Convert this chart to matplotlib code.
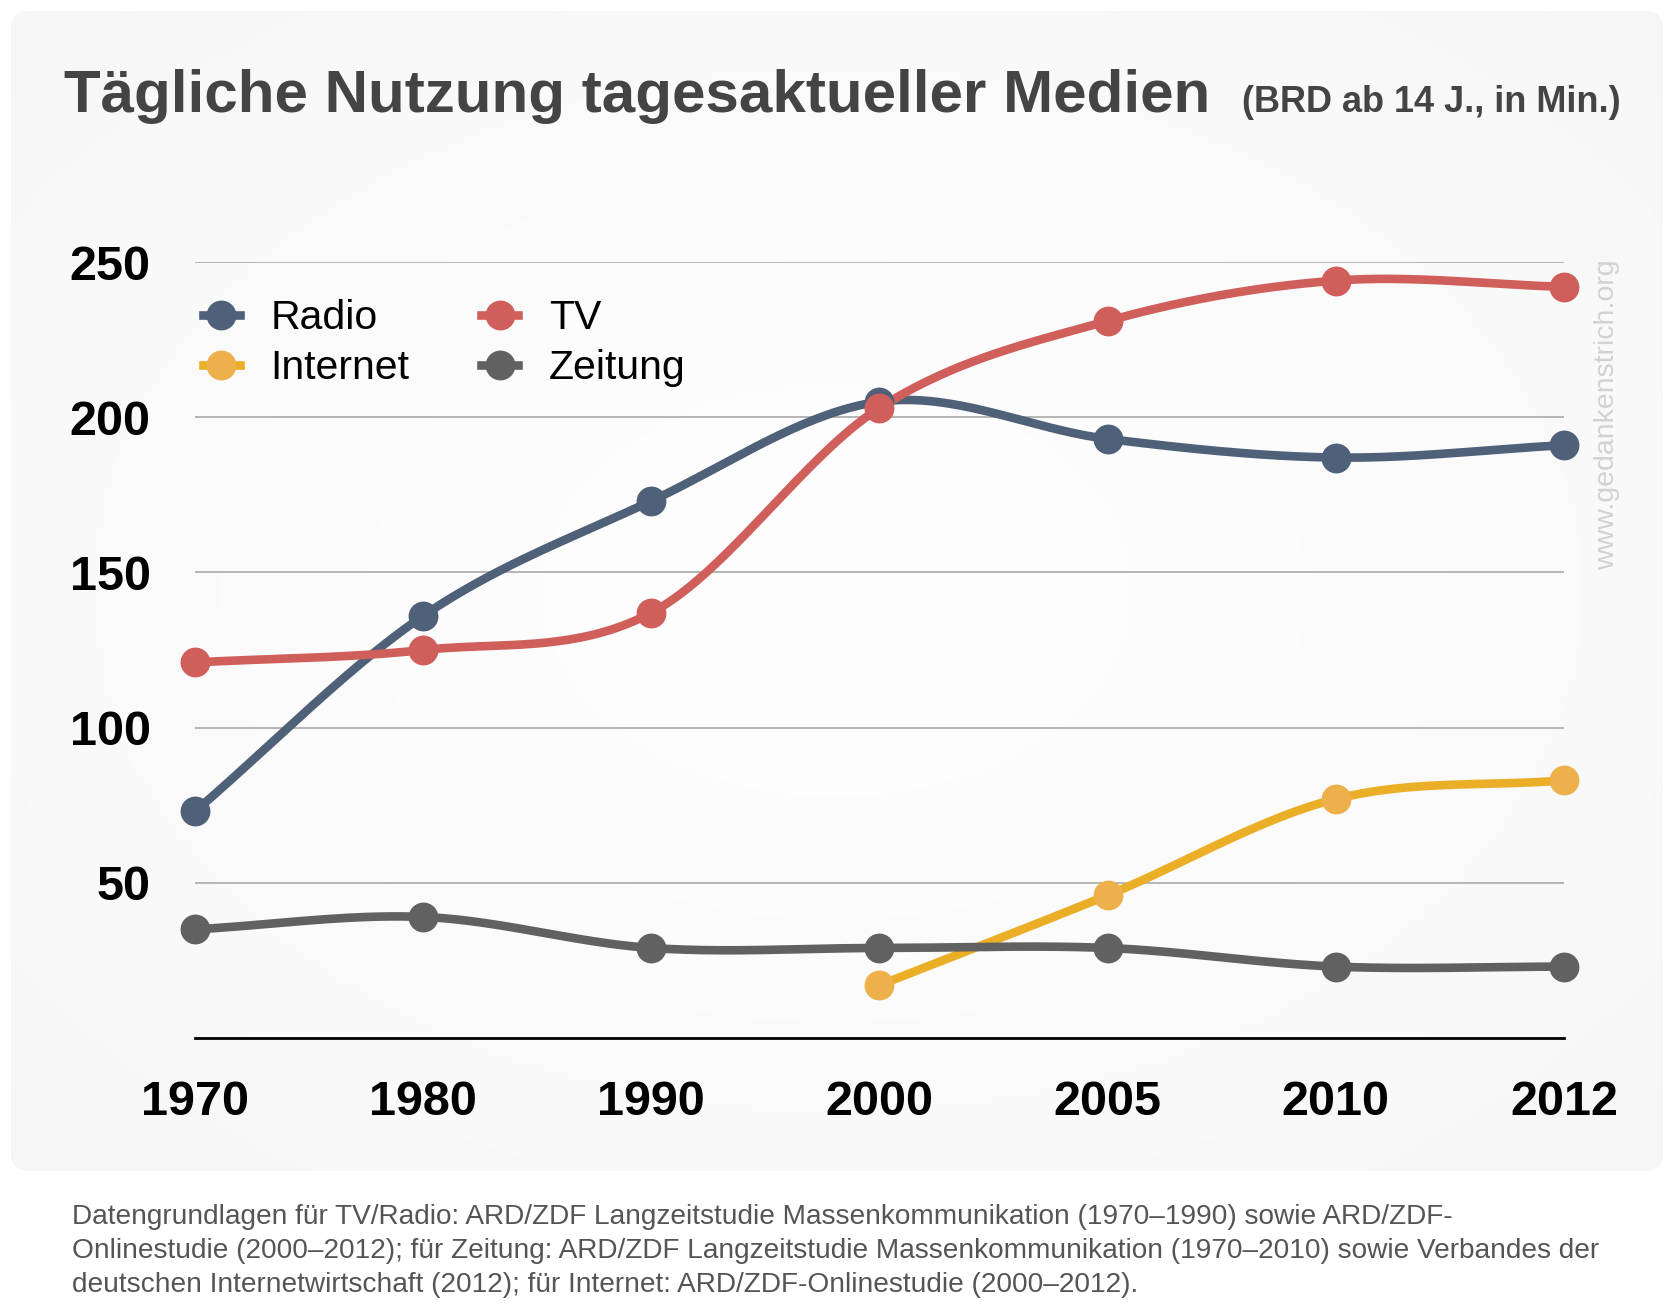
import numpy as np
import matplotlib
matplotlib.use("Agg")
import matplotlib.pyplot as plt
from matplotlib.patches import FancyBboxPatch
from matplotlib.lines import Line2D

plt.rcParams['font.family'] = ['Liberation Sans', 'DejaVu Sans']

# data (minutes per day)
years = ['1970', '1980', '1990', '2000', '2005', '2010', '2012']
radio = [73, 136, 173, 205, 193, 187, 191]
tv = [121, 125, 137, 203, 231, 244, 242]
internet = [None, None, None, 17, 46, 77, 83]
zeitung = [35, 39, 29, 29, 29, 23, 23]
y_ticks = [50, 100, 150, 200, 250]

title = 'Tägliche Nutzung tagesaktueller Medien'
subtitle = '(BRD ab 14 J., in Min.)'
watermark = 'www.gedankenstrich.org'
footnote = ('Datengrundlagen für TV/Radio: ARD/ZDF Langzeitstudie Massenkommunikation (1970–1990) sowie ARD/ZDF-\n'
            'Onlinestudie (2000–2012); für Zeitung: ARD/ZDF Langzeitstudie Massenkommunikation (1970–2010) sowie Verbandes der\n'
            'deutschen Internetwirtschaft (2012); für Internet: ARD/ZDF-Onlinestudie (2000–2012).')

W, H = 1674, 1315


def catmull_rom(x, y, n=40):
    """Smooth curve through the points (uniform Catmull-Rom)."""
    pts = np.column_stack([x, y]).astype(float)
    P = np.vstack([2 * pts[0] - pts[1], pts, 2 * pts[-1] - pts[-2]])
    t = np.linspace(0, 1, n)[:, None]
    segs = []
    for i in range(1, len(P) - 2):
        p0, p1, p2, p3 = P[i - 1], P[i], P[i + 1], P[i + 2]
        seg = 0.5 * (2 * p1 + (-p0 + p2) * t + (2 * p0 - 5 * p1 + 4 * p2 - p3) * t ** 2
                     + (-p0 + 3 * p1 - 3 * p2 + p3) * t ** 3)
        segs.append(seg)
    out = np.vstack(segs)
    return out[:, 0], out[:, 1]


fig = plt.figure(figsize=(W / 100, H / 100), dpi=100, facecolor='white')

# background panel with soft radial gradient
bg = fig.add_axes([0, 0, 1, 1], zorder=-5)
bg.set_xlim(0, W)
bg.set_ylim(0, H)
bg.axis('off')
panel = FancyBboxPatch((11, H - 1171), 1652, 1160, boxstyle='round,pad=0,rounding_size=18',
                       facecolor='#f7f7f7', edgecolor='none')
bg.add_patch(panel)
gx, gy = np.meshgrid(np.linspace(0, 1, 300), np.linspace(0, 1, 300))
r = np.sqrt((gx - 0.5) ** 2 + (gy - 0.5) ** 2) / 0.7
grad = 0.996 - 0.03 * np.clip(r, 0, 1) ** 1.5
im = bg.imshow(np.dstack([grad, grad, grad]), extent=(11, 1663, H - 1171, H - 11),
               origin='lower', aspect='auto', zorder=1)
im.set_clip_path(panel)

# main axes
ax = fig.add_axes([195 / W, 277 / H, (1564 - 195) / W, (1038 - 262) / H])
ax.set_facecolor('none')
ax.set_xlim(0, len(years) - 1)
ax.set_ylim(0, 250)
for s in ['top', 'right', 'left']:
    ax.spines[s].set_visible(False)
ax.spines['bottom'].set_color('black')
ax.spines['bottom'].set_linewidth(2.0)
ax.set_yticks(y_ticks)
ax.set_yticklabels([str(v) for v in y_ticks], fontsize=35, fontweight='bold')
ax.set_xticks(range(len(years)))
ax.set_xticklabels(years, fontsize=35, fontweight='bold')
ax.tick_params(axis='both', length=0)
ax.tick_params(axis='y', pad=32)
ax.tick_params(axis='x', pad=30)
ax.yaxis.grid(True, color='#b5b5b5', linewidth=1.4)
ax.set_axisbelow(True)

series = [
    ('Radio', radio, '#4f6079', '#4f6079'),
    ('TV', tv, '#d05f5c', '#d05f5c'),
    ('Internet', internet, '#ebae27', '#eeb04a'),
    ('Zeitung', zeitung, '#616161', '#616161'),
]
lw = 6.2
ms = 21.5
handles = {}
for name, vals, lc, mc in series:
    idx = [i for i, v in enumerate(vals) if v is not None]
    yv = [vals[i] for i in idx]
    sx, sy = catmull_rom(idx, yv)
    ax.plot(sx, sy, color=lc, lw=lw, solid_capstyle='round', zorder=3, clip_on=False)
    ax.plot(idx, yv, 'o', color=mc, markersize=ms, markeredgewidth=0, zorder=4, clip_on=False)
    handles[name] = Line2D([0], [0], color=lc, lw=lw, marker='o', markersize=ms,
                           markerfacecolor=mc, markeredgewidth=0)

order = ['Radio', 'Internet', 'TV', 'Zeitung']
leg = ax.legend([handles[k] for k in order], order, ncol=2, loc='upper left',
                bbox_to_anchor=(203 / W, (H - 299) / H), bbox_transform=fig.transFigure,
                frameon=False, fontsize=29.5, handlelength=0.9, handletextpad=0.75,
                columnspacing=1.75, labelspacing=0.3, borderpad=0, borderaxespad=0)

# texts
fig.text(64 / W, (H - 112) / H, title, fontsize=43.3, fontweight='bold', color='#444444',
         ha='left', va='baseline')
fig.text(1621 / W, (H - 112) / H, subtitle, fontsize=26, fontweight='bold', color='#444444',
         ha='right', va='baseline')
fig.text(1607 / W, (H - 415) / H, watermark, fontsize=20.5, color='#d2d2d2', rotation=90,
         ha='center', va='center')
fig.text(72 / W, (H - 1204) / H, footnote, fontsize=20.2, color='#555555', ha='left',
         va='top', linespacing=1.4)

fig.savefig('out.png', dpi=100, facecolor='white')
